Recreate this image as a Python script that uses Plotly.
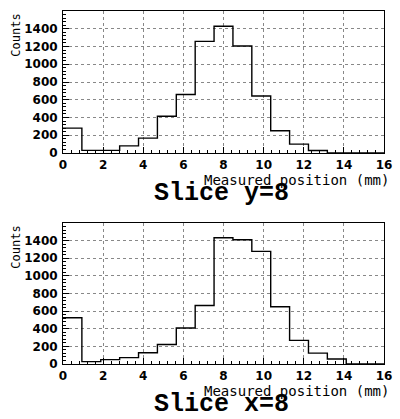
import plotly.graph_objects as go

# 17 bins spanning 0..16 mm
n_bins = 17
x_lo, x_hi = 0.0, 16.0
edges = [x_lo + i * (x_hi - x_lo) / n_bins for i in range(n_bins + 1)]

counts_y8 = [280, 30, 30, 80, 168, 414, 660, 1258, 1428, 1205, 642, 250, 100, 28, 0, 0, 0]
counts_x8 = [525, 27, 50, 72, 128, 222, 408, 664, 1432, 1410, 1278, 650, 268, 123, 56, 0, 0]

titles = ["Slice y=8", "Slice x=8"]
x_title = "Measured position (mm)"
y_title = "Counts"
x_ticks = [0, 2, 4, 6, 8, 10, 12, 14, 16]
y_ticks = [0, 200, 400, 600, 800, 1000, 1200, 1400]

fig = go.Figure()

W, H = 400, 419
m_l, m_r, m_t, m_b = 63, 8, 11, 55
plot_w = W - m_l - m_r
plot_h = H - m_t - m_b
# pixel positions of panels (top, bottom)
panels_px = [(11, 153), (223, 364)]

def frac(ypx):
    return (H - m_b - ypx) / plot_h

tick_font = dict(family="DejaVu Sans", size=12, color="black", weight="bold")

for i, (vals, ttl) in enumerate(zip([counts_y8, counts_x8], titles)):
    xa = "x" if i == 0 else "x2"
    ya = "y" if i == 0 else "y2"
    fig.add_trace(go.Scatter(
        x=edges, y=vals + [vals[-1]], mode="lines", line_shape="hv",
        line=dict(color="black", width=1.4), xaxis=xa, yaxis=ya,
        showlegend=False, hoverinfo="skip"))
    top, bot = panels_px[i]
    axkey_x = "xaxis" if i == 0 else "xaxis2"
    axkey_y = "yaxis" if i == 0 else "yaxis2"
    fig.update_layout(**{
        axkey_x: dict(
            range=[0, 16.0001], domain=[0, 1], anchor=ya,
            tickvals=x_ticks, ticktext=[str(v) for v in x_ticks],
            ticks="inside", ticklen=6, tickwidth=1, tickcolor="black",
            minor=dict(dtick=0.4, tick0=0, ticks="inside", ticklen=3, tickcolor="black", showgrid=False),
            showgrid=True, gridcolor="#888", griddash="dot", gridwidth=1,
            showline=True, linecolor="black", linewidth=1, mirror=True,
            zeroline=False, tickfont=tick_font, ticklabelstandoff=1,
            ticklabeloverflow="allow",
        ),
        axkey_y: dict(
            range=[0, 1600], domain=[frac(bot), frac(top)], anchor=xa,
            tickvals=y_ticks, ticktext=[str(v) for v in y_ticks],
            ticks="inside", ticklen=6, tickwidth=1, tickcolor="black",
            minor=dict(dtick=40, tick0=0, ticks="inside", ticklen=3, tickcolor="black", showgrid=False),
            showgrid=True, gridcolor="#888", griddash="dot", gridwidth=1,
            showline=True, linecolor="black", linewidth=1, mirror=True,
            zeroline=False, tickfont=tick_font, ticklabelstandoff=2,
        ),
    })
    # axis titles as annotations
    fig.add_annotation(
        text=x_title, xref="paper", yref="paper",
        x=1.0 + 7 / plot_w, y=frac(bot + 26.5), xanchor="right", yanchor="middle",
        showarrow=False, font=dict(family="DejaVu Sans Mono", size=14, color="black"))
    fig.add_annotation(
        text=y_title, xref="paper", yref="paper",
        x=-(m_l - 14) / plot_w, y=frac(top + 1), xanchor="center", yanchor="top",
        textangle=-90, showarrow=False,
        font=dict(family="DejaVu Sans Mono", size=12, color="black"))
    fig.add_annotation(
        text=ttl, xref="paper", yref="paper",
        x=(225 - m_l) / plot_w, y=frac(bot + 40), xanchor="center", yanchor="middle",
        showarrow=False, font=dict(family="Liberation Mono", size=25, color="black", weight="bold"))

fig.update_layout(
    width=W, height=H, margin=dict(l=m_l, r=m_r, t=m_t, b=m_b),
    paper_bgcolor="white", plot_bgcolor="white",
)

fig.write_html("out.html", config={"displayModeBar": False},
               post_script="document.body.style.margin='0';document.body.style.overflow='hidden';")
